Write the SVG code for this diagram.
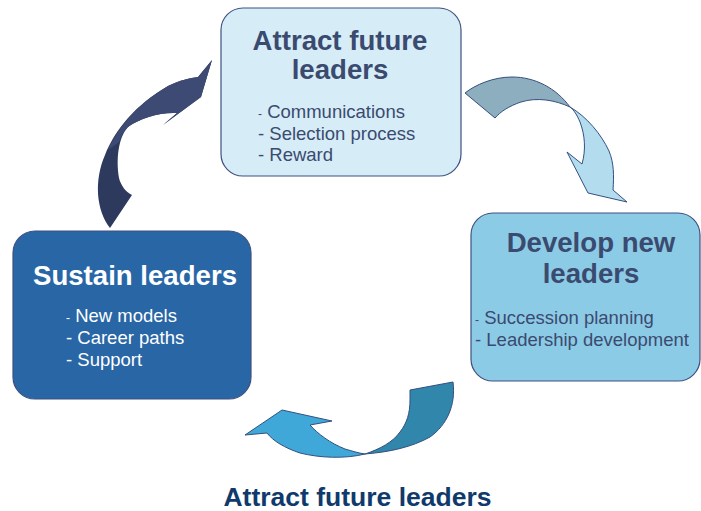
<svg xmlns="http://www.w3.org/2000/svg" width="701" height="511" viewBox="0 0 701 511">
<style>
.title{font-family:"Liberation Sans",Arial,sans-serif;font-weight:bold;font-size:27.6px;text-anchor:middle;fill:#3b4a6f}
.item{font-family:"Liberation Sans",Arial,sans-serif;font-size:18.5px;fill:#3b4a6f}
.w{fill:#ffffff}
.sd{font-size:12px}
.box{stroke:#3f5080;stroke-width:1.2}
.arr{stroke:#34507e;stroke-width:1;stroke-linejoin:round}
</style>
<rect width="701" height="511" fill="#ffffff"/>
<g id="connectors">
  <g id="arrow-top-right">
    <path class="arr" fill="#8caebe" d="M465,93 C475,85 493,77 512,77 C535,77 556,88 570,107 C555,100 537,97 521,102 C509,106 500,112 495,118 Z"/>
    <path class="arr" fill="#b3dcef" d="M570,107 C587,117 601,134 609,151 C614,163 614,176 613,190 L627,202 L588,193 L567,152 L582,164 C586,150 585,135 580,122 C577,115 574,110 570,107 Z"/>
  </g>
  <g id="arrow-bottom">
    <path class="arr" fill="#3186ab" d="M410,390 L453,382 C456,405 447,425 430,437 C412,447 390,452 365,454 C380,449 393,442 400,432 C407,423 410,413 410,400 Z"/>
    <path class="arr" fill="#3fa8d8" d="M365,454 C345,459 320,458 300,453 C285,448 273,441 267,433 L245,435 L282,410 L332,421 L310,425 C318,434 330,443 345,449 C352,451 358,453 365,454 Z"/>
  </g>
  <g id="arrow-left">
    <path fill="#2d3a5d" d="M110,228 C96,210 94,180 105,155 C115,130 135,105 168,86 C180,80 190,78 198,77 L212,60 L201,97 L163,125 L177,113 C160,112 140,118 128,127 C118,138 116,160 119,178 C121,186 126,192 132,195 Z"/>
    <path fill="#3d4b74" d="M108,150 C118,128 137,104 168,86 C180,80 190,78 198,77 L212,60 L201,97 L163,125 L177,113 C160,112 140,118 128,127 C124,131 121,136 119,142 Z"/>
  </g>
</g>
<g id="node-attract">
  <rect class="box" x="221" y="8" width="240" height="168" rx="22" fill="#d6edf7"/>
  <text class="title" x="340" y="50">Attract future</text>
  <text class="title" x="340" y="79">leaders</text>
  <text class="item" x="258" y="118"><tspan class="sd">-</tspan> Communications</text>
  <text class="item" x="258" y="140">- Selection process</text>
  <text class="item" x="258" y="161">- Reward</text>
</g>
<g id="node-develop">
  <rect class="box" x="471" y="213" width="229" height="168" rx="22" fill="#8ccbe6"/>
  <text class="title" x="591" y="252">Develop new</text>
  <text class="title" x="591" y="283">leaders</text>
  <text class="item" x="475" y="324"><tspan class="sd">-</tspan> Succession planning</text>
  <text class="item" x="475" y="346">- Leadership development</text>
</g>
<g id="node-sustain">
  <rect class="box" x="13" y="231" width="238" height="168" rx="22" fill="#2866a6" stroke="#2a4f85"/>
  <text class="title w" x="135" y="285">Sustain leaders</text>
  <text class="item w" x="66" y="322"><tspan class="sd">-</tspan> New models</text>
  <text class="item w" x="66" y="344">- Career paths</text>
  <text class="item w" x="66" y="366">- Support</text>
</g>
<g id="caption">
  <text x="357.5" y="505.5" style="font-family:'Liberation Sans',Arial,sans-serif;font-weight:bold;font-size:26.5px;text-anchor:middle;fill:#103a6b">Attract future leaders</text>
</g>
</svg>
